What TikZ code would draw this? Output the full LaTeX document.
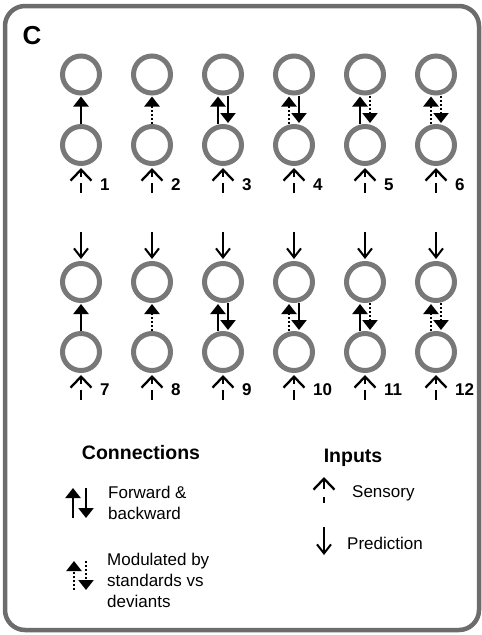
\documentclass[tikz,border=0pt]{standalone}
\usepackage{fontspec}
\setmainfont{Liberation Sans}
\usetikzlibrary{arrows.meta}
\definecolor{circgray}{RGB}{120,120,120}
\definecolor{framegray}{RGB}{108,108,108}
\begin{document}
\begin{tikzpicture}[x=1pt,y=-1pt,
  neuron/.style={circle,draw=circgray,line width=5pt,minimum size=37pt,inner sep=0pt},
  conn/.style={line width=2.4pt,-{Triangle[width=15pt,length=10pt]},shorten >=1pt},
  dotconn/.style={conn,dash pattern=on 2.2pt off 1.8pt},
  sens/.style={line width=2.3pt,-{Straight Barb[width=21pt,length=11pt,line width=2.3pt]},dash pattern=on 10pt off 6pt,shorten >=2pt},
  pred/.style={line width=2pt,-{Straight Barb[width=14pt,length=9pt,line width=2pt]},shorten >=2pt},
  num/.style={font=\bfseries\fontsize{17}{17}\selectfont,anchor=west,inner sep=0pt},
  legtext/.style={font=\fontsize{17}{21}\selectfont,align=left,anchor=west,inner sep=0pt},
  legtitle/.style={font=\bfseries\fontsize{19.5}{22}\selectfont,inner sep=0pt}]
\useasboundingbox (0,0) rectangle (482,635);
\draw[framegray,line width=4.5pt,rounded corners=20pt] (5,6) rectangle (479,630);
\node[font=\bfseries\fontsize{26}{26}\selectfont,inner sep=0pt] (lblC) at (32,36) {C};

% connection types per column
\foreach \i/\up/\dn/\dbl [count=\k from 0] in {1/conn/conn/0,2/dotconn/conn/0,3/conn/conn/1,4/dotconn/conn/1,5/conn/dotconn/1,6/dotconn/dotconn/1}{
  \pgfmathsetmacro{\cx}{81+71*\k}
  \pgfmathtruncatemacro{\j}{\i+6}
  % row 1
  \node[neuron] (t\i) at (\cx,74.5) {};
  \node[neuron] (b\i) at (\cx,145) {};
  \coordinate (s\i) at (\cx,193);
  \draw[sens] (s\i) -- (b\i.south);
  \node[num] (n\i) at (\cx+19,185) {\i};
  % row 2
  \node[neuron] (t\j) at (\cx,282) {};
  \node[neuron] (b\j) at (\cx,352) {};
  \coordinate (s\j) at (\cx,400);
  \coordinate (p\j) at (\cx,232);
  \draw[sens] (s\j) -- (b\j.south);
  \draw[pred] (p\j) -- (t\j.north);
  \node[num] (n\j) at (\cx+19,390) {\j};
  \ifnum\dbl=0
    \draw[\up] (b\i.north) -- (t\i.south);
    \draw[\up] (b\j.north) -- (t\j.south);
  \else
    \draw[\up] ([xshift=-5pt]b\i.north) -- ([xshift=-5pt]t\i.south);
    \draw[\dn] ([xshift=5pt]t\i.south) -- ([xshift=5pt]b\i.north);
    \draw[\up] ([xshift=-5pt]b\j.north) -- ([xshift=-5pt]t\j.south);
    \draw[\dn] ([xshift=5pt]t\j.south) -- ([xshift=5pt]b\j.north);
  \fi
}

% legend: connections
\node[legtitle] (conntitle) at (141,453) {Connections};
\coordinate (fa1) at (73,518); \coordinate (fa2) at (73,488);
\coordinate (fb1) at (86,488); \coordinate (fb2) at (86,518);
\draw[conn,shorten >=0pt] (fa1) -- (fa2);
\draw[conn,shorten >=0pt] (fb1) -- (fb2);
\node[legtext] (fwd) at (108,502.5) {Forward \&\\backward};
\coordinate (ma1) at (74,590); \coordinate (ma2) at (74,561);
\coordinate (mb1) at (86,561); \coordinate (mb2) at (86,590);
\draw[dotconn,shorten >=0pt] (ma1) -- (ma2);
\draw[dotconn,shorten >=0pt] (mb1) -- (mb2);
\node[legtext] (mod) at (107,580) {Modulated by\\standards vs\\deviants};

% legend: inputs
\node[legtitle] (intitle) at (353,458) {Inputs};
\coordinate (ls1) at (324,503); \coordinate (ls2) at (324,477);
\draw[sens,shorten >=0pt,dash pattern=on 6pt off 8pt on 12pt] (ls1) -- (ls2);
\node[legtext] (sensory) at (352,493) {Sensory};
\coordinate (lp1) at (324,527); \coordinate (lp2) at (324,555);
\draw[pred,shorten >=0pt] (lp1) -- (lp2);
\node[legtext] (prediction) at (347,543) {Prediction};
\end{tikzpicture}
\end{document}
